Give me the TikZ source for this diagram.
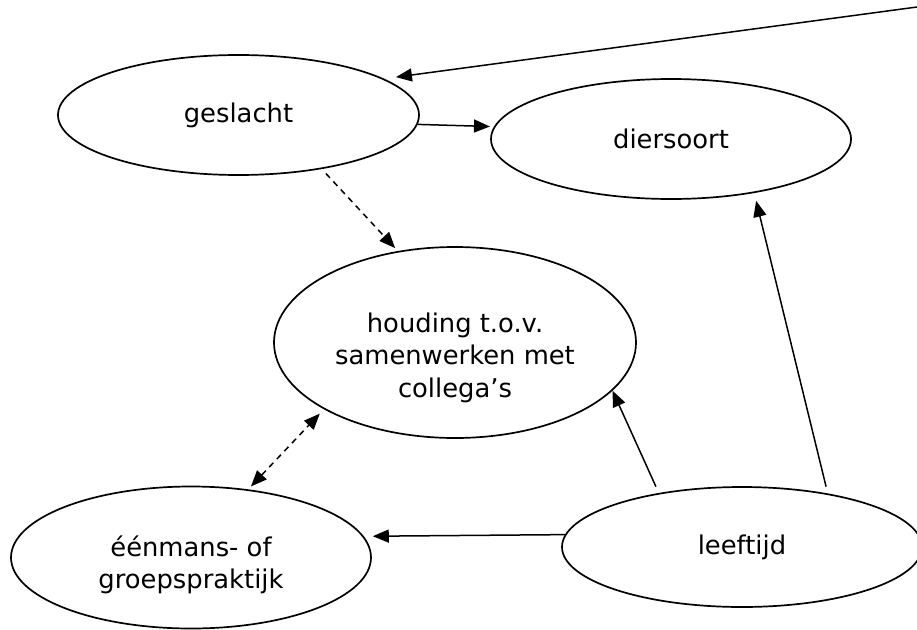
\documentclass[tikz,border=0pt]{standalone}
\usepackage{fontspec}
\setmainfont{DejaVu Sans}
\usetikzlibrary{shapes.geometric,arrows.meta}
\tikzset{
	ell/.style={draw,ellipse,line width=1.7pt,inner sep=0pt,align=center,font=\fontsize{25.8}{32.5}\selectfont},
	pijl/.style={line width=1.5pt,-{Triangle[length=16pt,width=13pt]}},
	stip/.style={pijl,dash pattern=on 6pt off 5pt},
	stip2/.style={stip,{Triangle[length=16pt,width=13pt]}-{Triangle[length=16pt,width=13pt]}},
}

\begin{document}
\begin{tikzpicture}[x=1pt,y=-1pt]
	\clip (0,0) rectangle (917,629);

	\node [ell,minimum width=361pt,minimum height=120pt] (geslacht) at (238.5,115) {geslacht};
	\node [ell,minimum width=360pt,minimum height=120pt] (diersoort) at (671,139) {diersoort};
	\node [ell,minimum width=362pt,minimum height=191pt] (houding) at (455,342.5) {\rule{0pt}{50pt}houding t.o.v.\\samenwerken met\\collega’s};
	\node [ell,minimum width=360pt,minimum height=142pt] (eenmans) at (191,557.5) {\rule{0pt}{35pt}éénmans- of\\groepspraktijk};
	\node [ell,minimum width=360pt,minimum height=120pt] (leeftijd) at (742,547) {leeftijd};
	\coordinate (boven) at (917,7);

	\draw [pijl,shorten >=12pt] (boven) -- (geslacht.14);
	\draw [pijl,shorten >=4pt] (geslacht.-3) -- (diersoort.176);
	\draw [stip,shorten <=6pt,shorten >=4pt] (geslacht.-33) -- (houding.122);
	\draw [stip2,shorten <=4pt,shorten >=6pt] (eenmans.50) -- (houding.207);
	\draw [pijl,shorten >=9pt] (leeftijd.176) -- (eenmans.7.5);
	\draw [pijl,shorten <=7pt] (leeftijd.147) -- (houding.-17);
	\draw [pijl,shorten <=7pt,shorten >=8pt] (leeftijd.32) -- (diersoort.-33);
\end{tikzpicture}
\end{document}
